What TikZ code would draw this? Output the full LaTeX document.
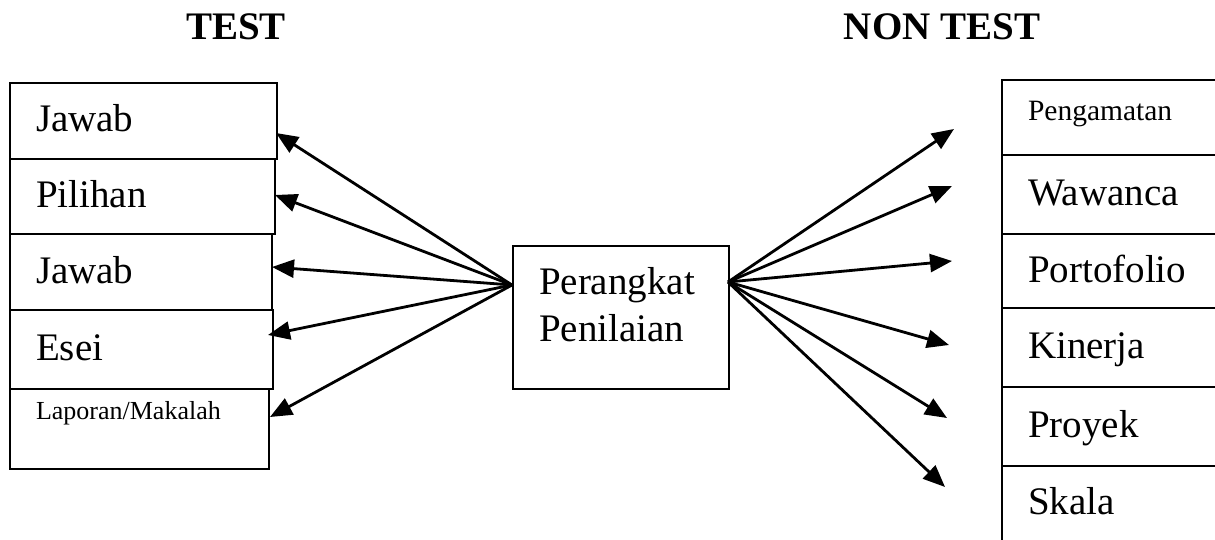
\documentclass[tikz,border=0pt]{standalone}
\usepackage{fontspec}
\setmainfont{Liberation Serif}
\usetikzlibrary{arrows.meta}
\begin{document}
\begin{tikzpicture}[x=1pt,y=-1pt,
  box/.style={draw,line width=2pt,anchor=north west,inner xsep=26pt,inner ysep=0pt,
    align=left,font=\fontsize{39}{47}\selectfont,text height=30pt,text depth=8pt},
  lbox/.style={box,minimum height=#1},
  rbox/.style={box,minimum width=240pt,text width=188pt,minimum height=#1},
  head/.style={anchor=base,font=\fontsize{39}{47}\selectfont\bfseries},
  arr/.style={line width=2.8pt,-{Triangle[length=22pt,width=18pt]}}]
\useasboundingbox (0,0) rectangle (1215,540);
% headers
\node[head] (ht) at (236,40) {TEST};
\node[head] (hn) at (942,40) {NON TEST};
% left boxes
\node[lbox=76pt,minimum width=267pt,text width=215pt] (b1) at (9,82) {Jawab};
\node[lbox=75pt,minimum width=265pt,text width=213pt] (b2) at (9,158) {Pilihan};
\node[lbox=76pt,minimum width=262pt,text width=210pt] (b3) at (9,233) {Jawab};
\node[lbox=79pt,minimum width=263pt,text width=211pt] (b4) at (9,309) {Esei};
\node[lbox=80pt,minimum width=259pt,text width=207pt,font=\fontsize{26}{31}\selectfont,
      text height=19pt,text depth=39pt] (b5) at (9,388) {Laporan/Makalah};
% center box
\node[draw,line width=2pt,anchor=north west,minimum width=216pt,minimum height=143pt,
      inner xsep=26pt,inner ysep=0pt,text width=164pt,align=left,
      font=\fontsize{39}{47}\selectfont,text height=27pt,text depth=74pt]
      (pp) at (512,245) {Perangkat\\Penilaian};
% right boxes
\node[rbox=75pt,font=\fontsize{29.5}{35}\selectfont,text height=20pt,text depth=13pt]
      (r1) at (1001,79) {Pengamatan};
\node[rbox=79pt] (r2) at (1001,154) {Wawanca};
\node[rbox=74pt] (r3) at (1001,233) {Portofolio};
\node[rbox=79pt] (r4) at (1001,307) {Kinerja};
\node[rbox=79pt] (r5) at (1001,386) {Proyek};
\node[rbox=100pt,text height=29pt,text depth=33pt] (r6) at (1001,465) {Skala};
% connector points
\coordinate (pl) at (512,285);
\coordinate (pr) at (728,282);
\coordinate (t1) at (276,133);
\coordinate (t2) at (275,195);
\coordinate (t3) at (272,267);
\coordinate (t4) at (268,335);
\coordinate (t5) at (270,417);
\coordinate (s1) at (954,129);
\coordinate (s2) at (952,186);
\coordinate (s3) at (952,261);
\coordinate (s4) at (949,345);
\coordinate (s5) at (947,418);
\coordinate (s6) at (945,487);
\foreach \t in {t1,t2,t3,t4,t5} \draw[arr] (pl) -- (\t);
\foreach \s in {s1,s2,s3,s4,s5,s6} \draw[arr] (pr) -- (\s);
\end{tikzpicture}
\end{document}
